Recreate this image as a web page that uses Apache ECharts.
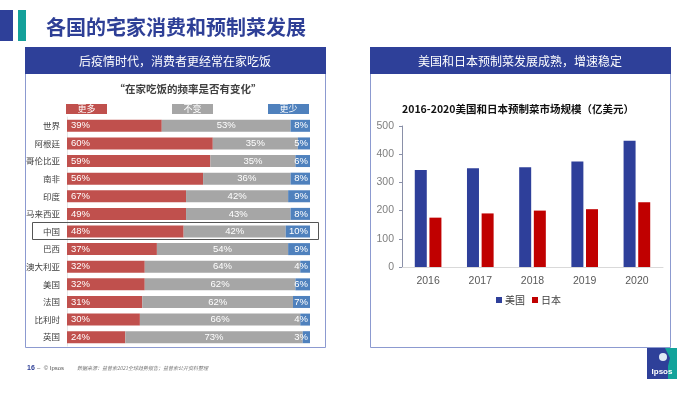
<!DOCTYPE html>
<html><head><meta charset="utf-8">
<script src="https://cdn.jsdelivr.net/npm/echarts@6/dist/echarts.min.js"></script>
<style>html,body{margin:0;padding:0;background:#fff}#c{width:700px;height:394px}</style>
</head><body><div id="c"></div>
<script>
// ---- Left chart data ----
const countries = ['世界','阿根廷','哥伦比亚','南非','印度','马来西亚','中国','巴西','澳大利亚','美国','法国','比利时','英国'];
const moreBar  = [39,60,59,56,49,49,48,37,32,32,31,30,24];   // drawn lengths as in picture
const moreText = [39,60,59,56,67,49,48,37,32,32,31,30,24];   // printed labels
const same     = [53,35,35,36,42,43,42,54,64,62,62,66,73];
const less     = [8,5,6,8,9,8,10,9,4,6,7,4,3];
const leftLegend = ['更多','不变','更少'];
// ---- Right chart data ----
const years = ['2016','2017','2018','2019','2020'];
const usVals = [344,350,354,374,448];
const jpVals = [175,190,200,205,230];
const rightLegend = ['美国','日本'];
const yTicks = [0,100,200,300,400,500];

const FF = '"Liberation Sans","Noto Sans CJK SC",sans-serif';
const CJK = '"Noto Sans CJK SC","Liberation Sans",sans-serif';
const RED = '#c0504d', GRAY = '#a6a6a6', BLUE = '#4f81bd';
const NAVY = '#2e4099';

const chart = echarts.init(document.getElementById('c'), null, {renderer:'canvas'});
const lbl = (pos, extra) => Object.assign({show:true, position:pos, color:'#fff', fontSize:9.5, fontFamily:FF}, extra||{});

const option = {
  animation:false,
  textStyle:{fontFamily:FF},
  grid:[
    {left:67, top:117, width:243, height:229, containLabel:false},
    {left:402, top:126, width:261, height:141, containLabel:false}
  ],
  xAxis:[
    {gridIndex:0, type:'value', min:0, max:100, show:false},
    {gridIndex:1, type:'category', data:years,
      axisLine:{show:true, lineStyle:{color:'#d9d9d9'}}, axisTick:{show:false},
      axisLabel:{color:'#595959', fontSize:10.5, margin:9, fontFamily:FF}}
  ],
  yAxis:[
    {gridIndex:0, type:'category', data:countries, inverse:true,
      axisLine:{show:true, lineStyle:{color:'#e6e6e6'}}, axisTick:{show:false},
      axisLabel:{color:'#404040', fontSize:8.5, margin:7, fontFamily:CJK}},
    {gridIndex:1, type:'value', min:0, max:500, interval:100,
      axisLine:{show:true, lineStyle:{color:'#8a90a8'}},
      axisTick:{show:true, inside:false, length:3, lineStyle:{color:'#8a90a8'}},
      splitLine:{show:false},
      axisLabel:{color:'#7f7f7f', fontSize:10.5, margin:8, fontFamily:FF,
        formatter:v => yTicks.includes(v) ? String(v) : ''}}
  ],
  legend:{
    data:rightLegend, left:491, top:290, itemWidth:6, itemHeight:6, itemGap:7, icon:'rect',
    textStyle:{color:'#404040', fontSize:10, fontFamily:CJK, padding:[0,0,0,-2]}
  },
  series:[
    {name:leftLegend[0], type:'bar', stack:'s', xAxisIndex:0, yAxisIndex:0, barWidth:12,
      itemStyle:{color:RED}, data:moreBar,
      label:lbl('insideLeft',{distance:4, formatter:p => moreText[p.dataIndex]+'%'})},
    {name:leftLegend[1], type:'bar', stack:'s', xAxisIndex:0, yAxisIndex:0, barWidth:12,
      itemStyle:{color:GRAY}, data:same,
      label:lbl('inside',{formatter:'{c}%'})},
    {name:leftLegend[2], type:'bar', stack:'s', xAxisIndex:0, yAxisIndex:0, barWidth:12,
      itemStyle:{color:BLUE}, data:less,
      label:lbl('insideRight',{distance:2, formatter:'{c}%'})},
    {name:rightLegend[0], type:'bar', xAxisIndex:1, yAxisIndex:1, barWidth:12, barGap:'22%',
      itemStyle:{color:'#2e3f9a'}, data:usVals},
    {name:rightLegend[1], type:'bar', xAxisIndex:1, yAxisIndex:1, barWidth:12, barGap:'22%',
      itemStyle:{color:'#c00000'}, data:jpVals}
  ],
  graphic:[
    // header marks
    {type:'rect', shape:{x:0,y:10,width:13,height:31}, style:{fill:NAVY}},
    {type:'rect', shape:{x:18,y:10,width:8,height:31}, style:{fill:'#14a09a'}},
    {type:'text', x:46, y:27, style:{text:'各国的宅家消费和预制菜发展', fill:'#2e3f96', font:'bold 20px '+CJK, verticalAlign:'middle'}},
    // left panel
    {type:'rect', shape:{x:25.5,y:47.5,width:300,height:300}, style:{fill:'none', stroke:'#8c9ad0', lineWidth:1}},
    {type:'rect', shape:{x:25,y:47,width:301,height:27}, style:{fill:NAVY}},
    {type:'text', x:175, y:61, style:{text:'后疫情时代，消费者更经常在家吃饭', fill:'#fff', font:'12px '+CJK, align:'center', verticalAlign:'middle'}},
    {type:'text', x:188, y:89, style:{text:'“在家吃饭的频率是否有变化”', fill:'#404040', font:'bold 10.5px '+CJK, align:'center', verticalAlign:'middle'}},
    {type:'rect', shape:{x:66,y:104,width:41,height:10}, style:{fill:RED}},
    {type:'text', x:86.5, y:109, style:{text:leftLegend[0], fill:'#fff', font:'9px '+CJK, align:'center', verticalAlign:'middle'}},
    {type:'rect', shape:{x:172,y:104,width:41,height:10}, style:{fill:GRAY}},
    {type:'text', x:192.5, y:109, style:{text:leftLegend[1], fill:'#fff', font:'9px '+CJK, align:'center', verticalAlign:'middle'}},
    {type:'rect', shape:{x:268,y:104,width:41,height:10}, style:{fill:BLUE}},
    {type:'text', x:288.5, y:109, style:{text:leftLegend[2], fill:'#fff', font:'9px '+CJK, align:'center', verticalAlign:'middle'}},
    {type:'rect', shape:{x:32.5,y:222.5,width:286,height:17}, style:{fill:'none', stroke:'#555', lineWidth:1}, z:100},
    // right panel
    {type:'rect', shape:{x:370.5,y:47.5,width:300,height:300}, style:{fill:'none', stroke:'#8c9ad0', lineWidth:1}},
    {type:'rect', shape:{x:370,y:47,width:301,height:27}, style:{fill:NAVY}},
    {type:'text', x:520, y:61, style:{text:'美国和日本预制菜发展成熟，增速稳定', fill:'#fff', font:'12px '+CJK, align:'center', verticalAlign:'middle'}},
    {type:'text', x:518, y:109, style:{text:'2016-2020美国和日本预制菜市场规模（亿美元）', fill:'#111', font:'bold 10.5px '+CJK, align:'center', verticalAlign:'middle'}},
    // footer
    {type:'text', x:27, y:368, style:{text:'16', fill:'#2e3f96', font:'bold 7px '+FF, verticalAlign:'middle'}},
    {type:'text', x:37, y:368, style:{text:'–  © Ipsos', fill:'#555', font:'6px '+FF, verticalAlign:'middle'}},
    {type:'text', x:77, y:368, style:{text:'数据来源：益普索2021全球趋势报告；益普索公开资料整理', fill:'#777', font:'italic 5px '+CJK, verticalAlign:'middle'}},
    // logo
    {type:'rect', shape:{x:647,y:348,width:30,height:31}, style:{fill:NAVY}},
    {type:'polygon', shape:{points:[[665,348],[677,348],[677,379],[668,379],[668,366],[670,358]]}, style:{fill:'#13a39b'}},
    {type:'circle', shape:{cx:663,cy:357,r:4}, style:{fill:'#dfe9f5'}},
    {type:'text', x:662, y:372, style:{text:'Ipsos', fill:'#fff', font:'bold 8px '+FF, align:'center', verticalAlign:'middle'}}
  ]
};
chart.setOption(option);
</script></body></html>
